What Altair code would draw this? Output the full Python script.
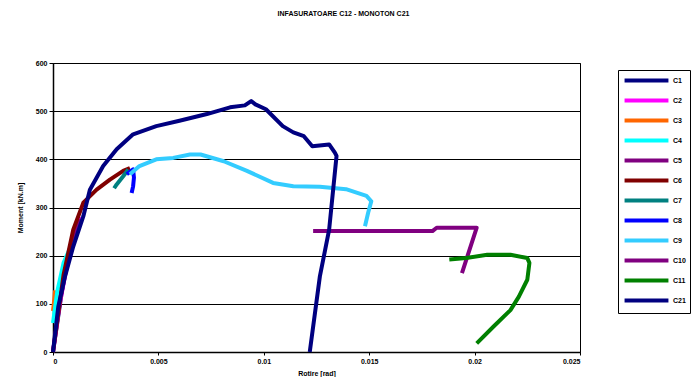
import altair as alt
import pandas as pd

series_names = ["C1", "C2", "C3", "C4", "C5", "C6", "C7", "C8", "C9", "C10", "C11", "C21"]
series_colors = ["#000080", "#FF00FF", "#FF6600", "#00FFFF", "#800080", "#800000",
                 "#008080", "#0000FF", "#33CCFF", "#800080", "#008000", "#000080"]

c1_x = [0, 0.0002, 0.0005]
c1_y = [0, 60, 150]
c2_x = [0, 0.0003, 0.0006, 0.001, 0.0013]
c2_y = [0, 95, 165, 235, 280]
c3_x = [0, 0.00005, 0.0001]
c3_y = [85, 105, 128]
c4_x = [0, 0.0002, 0.0005, 0.0008]
c4_y = [60, 125, 185, 215]
c5_x = [0.0004, 0.0007, 0.001, 0.0013]
c5_y = [120, 190, 240, 275]
c6_x = [0, 0.0005, 0.00096, 0.00144, 0.00207, 0.0027, 0.00333, 0.00365]
c6_y = [0, 160, 254, 310, 337, 358, 376, 382]
c7_x = [0.0029, 0.00302, 0.00333, 0.00357]
c7_y = [340, 348, 365, 379]
c8_x = [0.0035, 0.0038, 0.00384, 0.0038, 0.00373]
c8_y = [369, 379, 362, 344, 330]
c9_x = [0.00365, 0.0041, 0.0049, 0.0057, 0.0065, 0.0070, 0.0081, 0.0092, 0.01044,
        0.0114, 0.01266, 0.0139, 0.01487, 0.0151, 0.01495, 0.0148]
c9_y = [369, 386, 400, 403, 410, 410, 396, 376, 351, 344, 343, 338, 324, 313, 289, 261]
c10_x = [0.01234, 0.018, 0.0182, 0.0201, 0.0194]
c10_y = [251, 251, 258, 258, 164]
c11_x = [0.0188, 0.0196, 0.0206, 0.0217, 0.0225, 0.0226, 0.0225, 0.0221, 0.0217, 0.0209, 0.0201]
c11_y = [192, 195, 202, 202, 195, 185, 150, 115, 87, 53, 18]
c21_x = [0, 0.00025, 0.00057, 0.00096, 0.00144, 0.00175, 0.00238, 0.00302, 0.0038,
         0.0049, 0.006, 0.0073, 0.0084, 0.0091, 0.0094, 0.0096, 0.0101, 0.0109, 0.0114,
         0.0119, 0.0123, 0.0131, 0.01337, 0.01345, 0.0131, 0.01266, 0.01218]
c21_y = [0, 94, 157, 219, 282, 337, 386, 421, 452,
         469, 480, 494, 508, 512, 521, 514, 504, 469, 456,
         448, 427, 431, 414, 407, 254, 157, 0]

all_x = [c1_x, c2_x, c3_x, c4_x, c5_x, c6_x, c7_x, c8_x, c9_x, c10_x, c11_x, c21_x]
all_y = [c1_y, c2_y, c3_y, c4_y, c5_y, c6_y, c7_y, c8_y, c9_y, c10_y, c11_y, c21_y]

rows = []
for k, (name, xs, ys) in enumerate(zip(series_names, all_x, all_y)):
    for i, (xv, yv) in enumerate(zip(xs, ys)):
        rows.append({"serie": name, "rot": xv, "mom": yv, "idx": i, "ord": k})
df = pd.DataFrame(rows)

FONT = "Liberation Sans"

chart = alt.Chart(df).mark_line(strokeWidth=4, strokeJoin="round").encode(
    x=alt.X("rot:Q", title="Rotire [rad]",
            scale=alt.Scale(domain=[0, 0.025], nice=False),
            axis=alt.Axis(values=[0, 0.005, 0.01, 0.015, 0.02, 0.025], format="~g",
                          grid=False, tickSize=3, titlePadding=5)),
    y=alt.Y("mom:Q", title="Moment [kN.m]",
            scale=alt.Scale(domain=[0, 600], nice=False),
            axis=alt.Axis(values=[0, 100, 200, 300, 400, 500, 600], grid=True,
                          tickSize=4, titlePadding=12)),
    color=alt.Color("serie:N",
                    scale=alt.Scale(domain=series_names, range=series_colors),
                    legend=alt.Legend(orient="none", legendX=565, legendY=7, title=None,
                                      symbolType="M-5,0H5", symbolSize=77,
                                      symbolStrokeWidth=4, strokeColor="black",
                                      symbolOffset=18, padding=4, rowPadding=3,
                                      labelFontSize=7, labelFont=FONT,
                                      labelFontWeight="bold", labelColor="black",
                                      labelOffset=20)),
    detail="serie:N",
    order="idx:Q",
).properties(
    width=527,
    height=289,
    autosize=alt.AutoSizeParams(type="none"),
    padding={"left": 45, "top": 55, "right": 111, "bottom": 25},
    title=alt.TitleParams("INFASURATOARE C12 - MONOTON C21", fontSize=7, font=FONT,
                          fontWeight="bold", color="black", offset=42, dx=27),
).configure_view(
    stroke="black", strokeWidth=1
).configure_axis(
    labelFont=FONT, labelFontSize=7, labelFontWeight="bold", labelColor="black",
    titleFont=FONT, titleFontSize=7, titleFontWeight="bold", titleColor="black",
    domainColor="black", domainWidth=1.5, tickColor="black", tickWidth=1,
    gridColor="black", gridWidth=1, gridOpacity=1,
)

chart.save("out.html", embed_options={"renderer": "svg", "actions": False})
